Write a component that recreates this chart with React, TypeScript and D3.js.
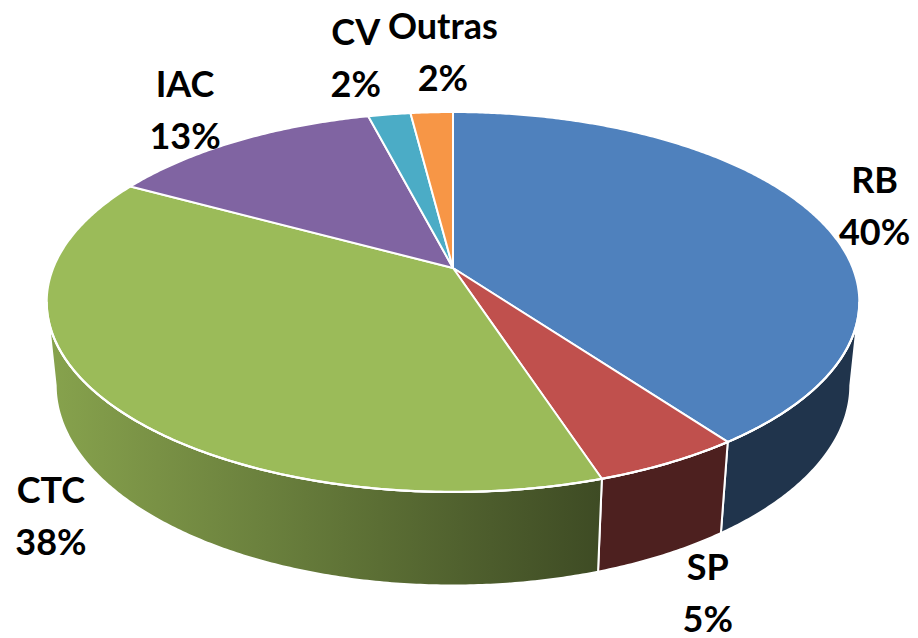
import { useMemo } from "react";
import * as d3 from "d3";

// ── Data ─────────────────────────────────────────────────────────────────────
const categories = ["RB", "SP", "CTC", "IAC", "CV", "Outras"];
const shares = [40, 5, 38, 13, 2, 2];
const colors = ["#4F81BD", "#C0504D", "#9BBB59", "#8064A2", "#4BACC6", "#F79646"];

const W = 918;
const H = 638;

// Perspective camera for the tilted disc (radius 1, thickness TH)
const CX = 453;
const CY = 268;
const ELEV = Math.asin(0.46);
const SN = Math.sin(ELEV);
const CS = Math.cos(ELEV);
const DIST = 5.587 * CS;
const FOC = 1983;
const TH = 0.236;

const FONT = "Lato, 'Open Sans', sans-serif";
const FONT_PX = 36;
const LINE_GAP = 52;
const PUSH_BACK = 62;            // label distance for slices on the far side
const PUSH_FRONT = [75, 46];     // x / y label distance below the side wall

// screen point of the rim at angle t (0 = back, clockwise), top (0) or bottom (1)
function project(t: number, down: number, r = 1): [number, number] {
  const u = Math.sin(t) * r;
  const v = Math.cos(t) * r;
  const up = v * SN - down * TH * CS;
  const depth = DIST + v * CS + down * TH * SN;
  return [CX + (FOC * u) / depth, CY - (FOC * up) / depth];
}

function samples(a0: number, a1: number) {
  const n = Math.max(2, Math.ceil((a1 - a0) / (Math.PI / 360)));
  return d3.range(n + 1).map((i) => a0 + ((a1 - a0) * i) / n);
}

const line = d3.line();

export default function App() {
  const arcs = useMemo(() => d3.pie<number>().sort(null).value((d) => d)(shares), []);

  // silhouette angles: where the rim reaches its extreme x
  const grid = d3.range(0, 2 * Math.PI, Math.PI / 720);
  const tRight = grid[d3.maxIndex(grid, (t) => project(t, 0)[0])];
  const tLeft = grid[d3.minIndex(grid, (t) => project(t, 0)[0])];

  const shade = d3.scaleLinear().domain([50, 600]).range([0.87, 0.4]).clamp(true);
  const darken = (c: string, f: number) => {
    const k = d3.rgb(c);
    return d3.rgb(k.r * f, k.g * f, k.b * f).formatHex();
  };

  const sides = arcs
    .map((a, i) => {
      const s0 = Math.max(a.startAngle, tRight);
      const s1 = Math.min(a.endAngle, tLeft);
      if (s1 <= s0) return null;
      const ts = samples(s0, s1);
      const top = ts.map((t) => project(t, 0));
      const bot = ts.map((t) => project(t, 1)).reverse();
      const xs = top.map((p) => p[0]).concat(bot.map((p) => p[0]));
      const x0 = d3.min(xs) as number;
      const x1 = d3.max(xs) as number;
      const stops = d3.range(6).map((k) => {
        const x = x0 + ((x1 - x0) * k) / 5;
        return { off: k / 5, col: darken(colors[i], shade(x)) };
      });
      return { i, d: line([...top, ...bot]) + "Z", x0, x1, stops };
    })
    .filter(Boolean) as { i: number; d: string; x0: number; x1: number; stops: { off: number; col: string }[] }[];

  const tops = arcs.map((a, i) => {
    const pts = [project(0, 0, 0), ...samples(a.startAngle, a.endAngle).map((t) => project(t, 0))];
    return { i, d: line(pts) + "Z" };
  });

  const rim = line(samples(tRight, tLeft).map((t) => project(t, 0)));

  // labels: outside the visible edge, pushed away from the disc centre
  const measure = useMemo(() => {
    const ctx = document.createElement("canvas").getContext("2d")!;
    ctx.font = `bold ${FONT_PX}px ${FONT}`;
    return (s: string) => ctx.measureText(s).width;
  }, []);

  const total = d3.sum(shares);
  const labels = arcs.map((a, i) => {
    const mid = (a.startAngle + a.endAngle) / 2;
    const front = mid > tRight && mid < tLeft;
    const [px, py] = project(mid, front ? 1 : 0);
    const dx = px - CX;
    const dy = py - CY;
    const len = Math.hypot(dx, dy);
    const [kx, ky] = front ? PUSH_FRONT : [PUSH_BACK, PUSH_BACK];
    const pct = `${Math.round((a.value / total) * 100)}%`;
    const w = Math.max(measure(categories[i]), measure(pct));
    return { i, name: categories[i], pct, x: px + (dx / len) * kx, y: py + (dy / len) * ky, w };
  });

  // nudge labels that collide horizontally apart (the later one moves more)
  for (let pass = 0; pass < 4; pass++) {
    for (let a = 0; a < labels.length; a++) {
      for (let b = a + 1; b < labels.length; b++) {
        const A = labels[a];
        const B = labels[b];
        if (Math.abs(A.y - B.y) > LINE_GAP * 1.5) continue;
        const need = (A.w + B.w) / 2 + 7 - Math.abs(A.x - B.x);
        if (need > 0) {
          const sgn = A.x < B.x ? -1 : 1;
          A.x += (sgn * need) / 3;
          B.x -= (sgn * need * 2) / 3;
        }
      }
    }
  }

  return (
    <svg width={W} height={H} style={{ position: "absolute", left: 0, top: 0, background: "#fff" }}>
      <defs>
        {sides.map((s) => (
          <linearGradient key={s.i} id={`side-${s.i}`} gradientUnits="userSpaceOnUse" x1={s.x0} x2={s.x1} y1={0} y2={0}>
            {s.stops.map((st, k) => (
              <stop key={k} offset={st.off} stopColor={st.col} />
            ))}
          </linearGradient>
        ))}
      </defs>

      {sides.map((s) => (
        <path key={s.i} d={s.d} fill={`url(#side-${s.i})`} stroke="#fff" strokeWidth={2} strokeLinejoin="round" />
      ))}

      {tops.map((t) => (
        <path key={t.i} d={t.d} fill={colors[t.i]} stroke="#fff" strokeWidth={2} strokeLinejoin="round" />
      ))}

      <path d={rim ?? ""} fill="none" stroke="#fff" strokeWidth={2.2} />

      {labels.map((l) => (
        <text key={l.i} fontFamily={FONT} fontWeight="bold" fontSize={FONT_PX} fill="#000" textAnchor="middle">
          <tspan x={l.x} y={l.y - 12}>
            {l.name}
          </tspan>
          <tspan x={l.x} y={l.y - 12 + LINE_GAP}>
            {l.pct}
          </tspan>
        </text>
      ))}
    </svg>
  );
}
